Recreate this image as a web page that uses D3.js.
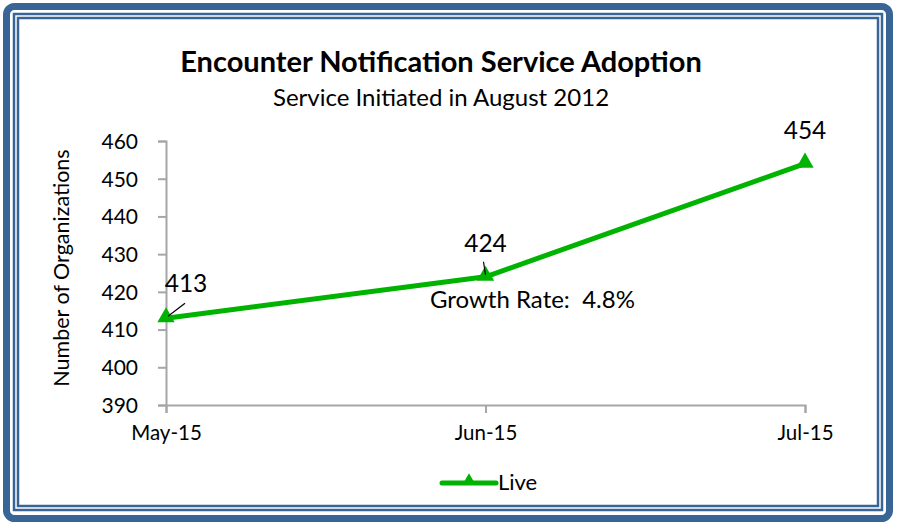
<!DOCTYPE html>
<html>
<head>
<meta charset="utf-8">
<script src="https://cdn.jsdelivr.net/npm/d3@7"></script>
<style>
  html, body { margin: 0; padding: 0; background: #ffffff; }
  svg { display: block; }
  text { font-family: Lato, "Open Sans", sans-serif; fill: #000; }
</style>
</head>
<body>
<svg id="chart" width="903" height="527"></svg>
<script>
// ---- data ----
const categories = ["May-15", "Jun-15", "Jul-15"];
const liveValues = [413, 424, 454];
const yTicks = [390, 400, 410, 420, 430, 440, 450, 460];
const seriesName = "Live";
const titleText = "Encounter Notification Service Adoption";
const subtitleText = "Service Initiated in August 2012";
const yAxisTitle = "Number of Organizations";
const growthText = "Growth Rate:  4.8%";

const svg = d3.select("#chart");
const blue = "#386496";
const green = "#00b300";
const axisGray = "#a6a6a6";

// ---- frame ----
svg.append("rect").attr("x", 6.5).attr("y", 6.5).attr("width", 883).attr("height", 512)
  .attr("rx", 8).attr("fill", "none").attr("stroke", blue).attr("stroke-width", 7);
svg.append("rect").attr("x", 14).attr("y", 14).attr("width", 868).attr("height", 496)
  .attr("fill", "none").attr("stroke", blue).attr("stroke-width", 2.5);
svg.append("rect").attr("x", 18).attr("y", 18).attr("width", 860).attr("height", 488)
  .attr("fill", "none").attr("stroke", blue).attr("stroke-width", 2.5);

// ---- scales ----
const x = d3.scalePoint().domain(categories).range([166, 805]);
const y = d3.scaleLinear().domain([390, 460]).range([405, 141]);

// ---- axes ----
const yAxis = d3.axisLeft(y).tickValues(yTicks).tickSize(8).tickPadding(20).tickFormat(d3.format("d"));
const gy = svg.append("g").attr("transform", `translate(${x(categories[0])},0)`).call(yAxis);
gy.select(".domain").attr("stroke", axisGray).attr("stroke-width", 2);
gy.selectAll(".tick line").attr("stroke", axisGray).attr("stroke-width", 2);
gy.selectAll(".tick text").style("font-size", "21px").attr("fill", "#000").attr("dy", "0.35em");

const xAxis = d3.axisBottom(x).tickSize(8).tickPadding(12);
const gx = svg.append("g").attr("transform", `translate(0,${y(390)})`).call(xAxis);
gx.select(".domain").attr("stroke", axisGray).attr("stroke-width", 2);
gx.selectAll(".tick line").attr("stroke", axisGray).attr("stroke-width", 2);
gx.selectAll(".tick text").style("font-size", "20.5px").attr("fill", "#000");

// ---- titles ----
svg.append("text").attr("x", 441).attr("y", 72).attr("text-anchor", "middle")
  .style("font-size", "29px").style("font-weight", "bold").text(titleText);
svg.append("text").attr("x", 441).attr("y", 106).attr("text-anchor", "middle")
  .style("font-size", "24px").text(subtitleText);
svg.append("text").attr("transform", "translate(69,268) rotate(-90)").attr("text-anchor", "middle")
  .style("font-size", "21.5px").text(yAxisTitle);

// ---- line ----
const data = categories.map((c, i) => ({ c, v: liveValues[i] }));
svg.append("path").datum(data)
  .attr("d", d3.line().x(d => x(d.c)).y(d => y(d.v)))
  .attr("fill", "none").attr("stroke", green).attr("stroke-width", 5).attr("stroke-linejoin", "round");

const tri = d3.symbol().type(d3.symbolTriangle).size(130);
svg.selectAll(".marker").data(data).enter().append("path")
  .attr("class", "marker")
  .attr("transform", d => `translate(${x(d.c)},${y(d.v) - 1})`)
  .attr("d", tri).attr("fill", green);

// ---- data labels ----
const labelOffsets = [[20, -26], [0, -25], [0, -25]];
svg.selectAll(".dlabel").data(data).enter().append("text")
  .attr("class", "dlabel")
  .attr("x", (d, i) => x(d.c) + labelOffsets[i][0])
  .attr("y", (d, i) => y(d.v) + labelOffsets[i][1])
  .attr("text-anchor", "middle").style("font-size", "24.5px").text(d => d.v);

// leader lines
svg.append("line").attr("x1", x(categories[0]) + 19).attr("y1", y(liveValues[0]) - 15)
  .attr("x2", x(categories[0]) + 2).attr("y2", y(liveValues[0]) - 2)
  .attr("stroke", "#000").attr("stroke-width", 1.2);
svg.append("line").attr("x1", x(categories[1]) - 2).attr("y1", y(liveValues[1]) - 15)
  .attr("x2", x(categories[1])).attr("y2", y(liveValues[1]) - 2)
  .attr("stroke", "#000").attr("stroke-width", 1.2);

// growth rate
svg.append("text").attr("x", 430).attr("y", 308).style("font-size", "24px")
  .style("white-space", "pre").attr("xml:space", "preserve").text(growthText);

// ---- legend ----
svg.append("line").attr("x1", 442).attr("x2", 496).attr("y1", 483).attr("y2", 483)
  .attr("stroke", green).attr("stroke-width", 5).attr("stroke-linecap", "round");
svg.append("path").attr("transform", "translate(469,481)")
  .attr("d", d3.symbol().type(d3.symbolTriangle).size(80)).attr("fill", green);
svg.append("text").attr("x", 498).attr("y", 490).style("font-size", "22px").text(seriesName);
</script>
</body>
</html>
